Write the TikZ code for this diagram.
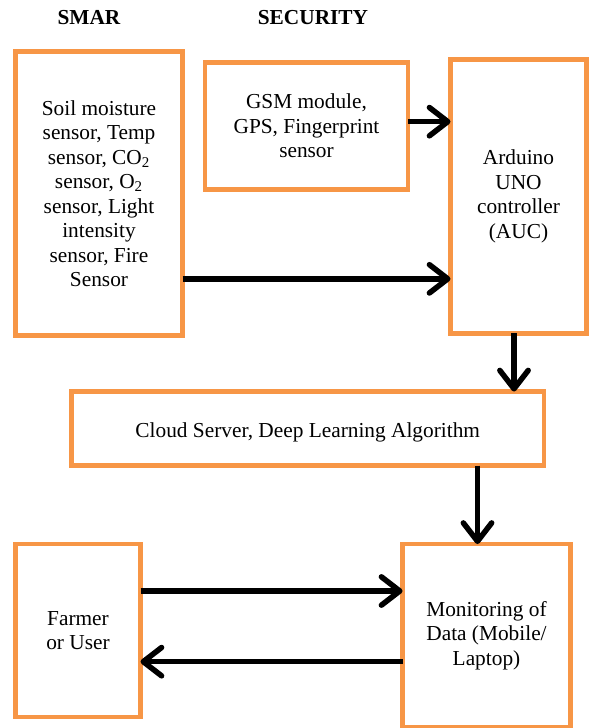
\documentclass[tikz,border=0pt]{standalone}
\usepackage{fontspec}
\setmainfont{Liberation Serif}
\usetikzlibrary{arrows.meta,positioning}
\definecolor{boxorange}{RGB}{247,150,70}

\begin{document}
\begin{tikzpicture}[
  x=0.6pt,y=-0.6pt,
  >={Straight Barb[round,length=11pt,width=17pt]},
  block/.style={draw=boxorange,line width=2.7pt,fill=white,align=center,
    inner sep=0pt,outer sep=0pt,font=\fontsize{12.8}{14.7}\selectfont,
    execute at begin node={\rule{0pt}{14pt}}},
  heading/.style={font=\fontsize{12.8}{14.7}\selectfont\bfseries},
  flow/.style={->,line width=3.3pt}
]
  \useasboundingbox (0,0) rectangle (590,728);

  \node[heading] (smar) at (89,18) {SMAR};
  \node[heading] (secu) at (313,18) {SECURITY};

  \node[block,minimum width=100.2pt,minimum height=170.4pt] (soil) at (99,193.5)
    {Soil moisture\\sensor, Temp\\sensor, CO\textsubscript{2}\\sensor, O\textsubscript{2}\\sensor, Light\\intensity\\sensor, Fire\\Sensor};
  \node[block,minimum width=121.8pt,minimum height=76.2pt] (gsm) at (306.5,126)
    {GSM module,\\GPS, Fingerprint\\sensor};
  \node[block,minimum width=81.6pt,minimum height=164.4pt] (auc) at (518.5,196.5)
    {Arduino\\UNO\\controller\\(AUC)};
  \node[block,minimum width=283.5pt,minimum height=44.4pt] (cloud) at (307.75,428.5)
    {Cloud Server, Deep Learning Algorithm};
  \node[block,minimum width=75pt,minimum height=103.8pt] (user) at (78,630.5)
    {Farmer\\or User};
  \node[block,minimum width=100.8pt,minimum height=109.8pt] (mon) at (486.5,635.5)
    {Monitoring of\\Data (Mobile/\\Laptop)};

  % arrow end points
  \coordinate (g1) at ([yshift=2.6pt]gsm.east);
  \coordinate (s1) at ([yshift=34pt]soil.south east);
  \coordinate (a1) at ([xshift=-2.7pt]auc.south);
  \coordinate (m1) at ([xshift=-5.4pt]mon.north);
  \coordinate (u1) at ([yshift=23.7pt]user.east);
  \coordinate (u2) at ([yshift=-18.7pt]user.east);

  \draw[flow] (g1) -- (g1 -| auc.west);
  \draw[flow] (s1) -- (s1 -| auc.west);
  \draw[flow] (a1) -- (a1 |- cloud.north);
  \draw[flow] (m1 |- cloud.south) -- (m1);
  \draw[flow] (u1) -- (u1 -| mon.west);
  \draw[flow] (u2 -| mon.west) -- (u2);
\end{tikzpicture}
\end{document}
